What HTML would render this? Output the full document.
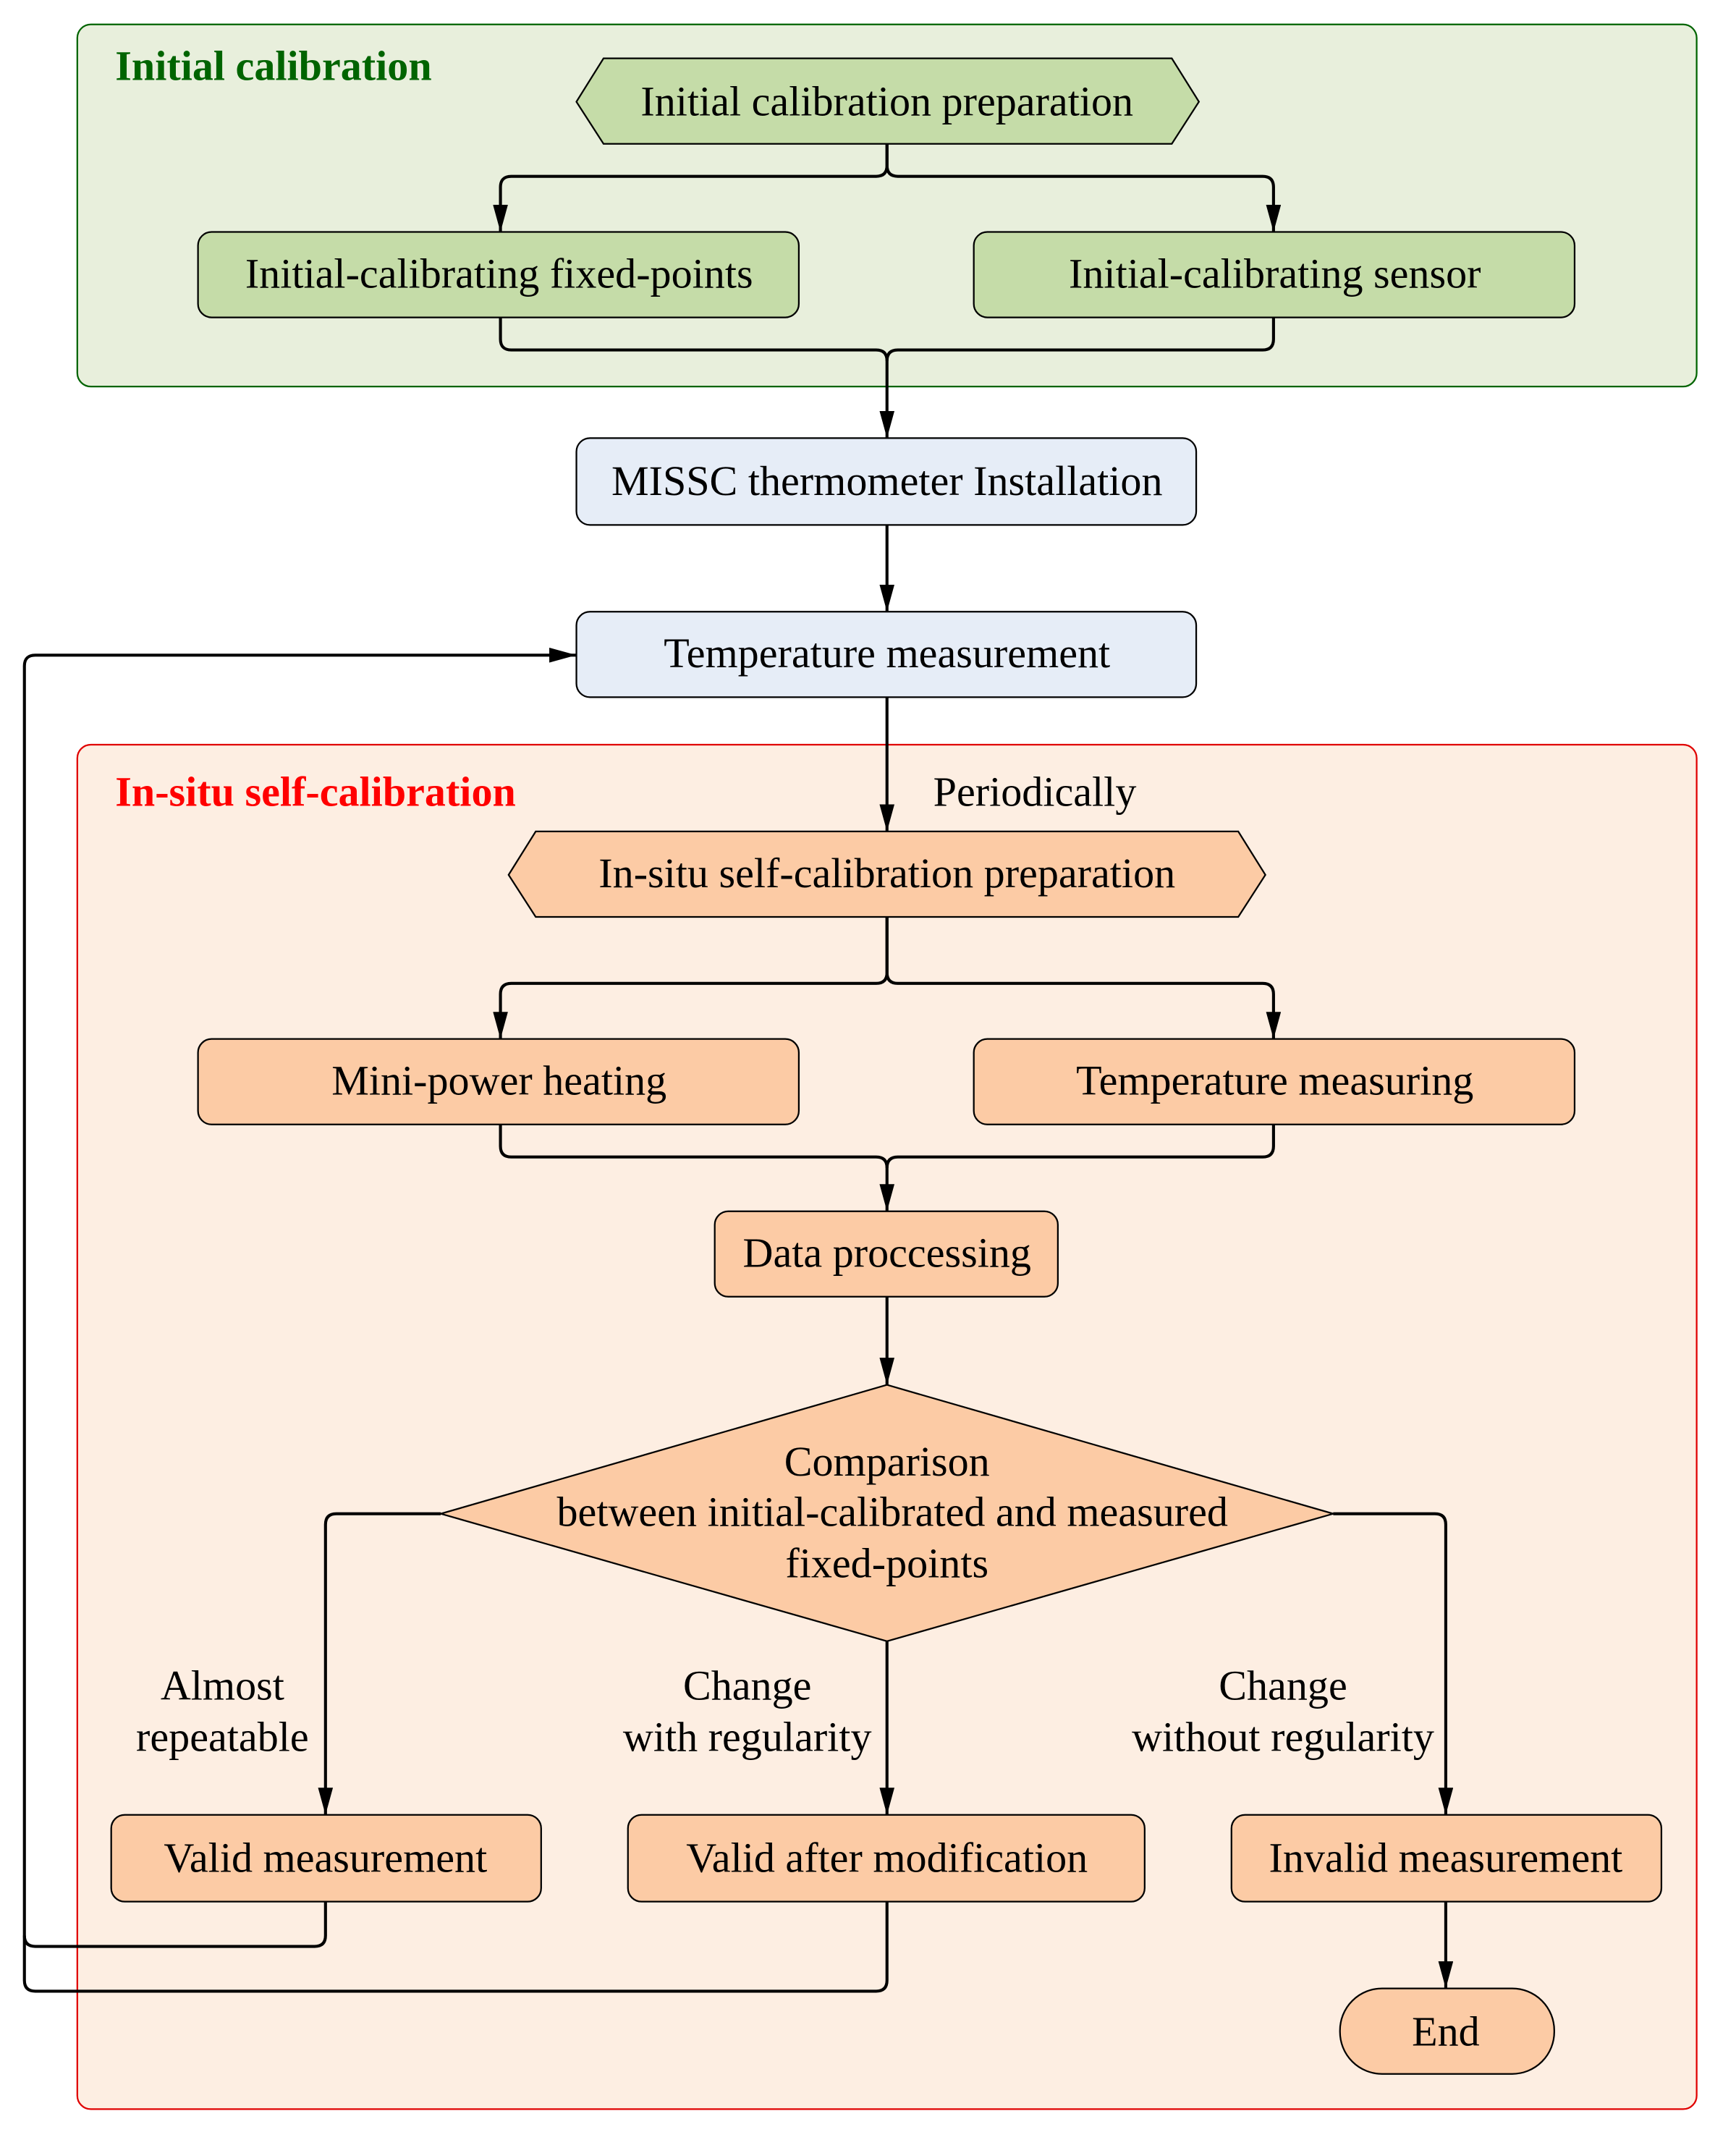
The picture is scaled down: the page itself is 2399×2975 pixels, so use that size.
<!DOCTYPE html>
<html><head><meta charset="utf-8"><style>html,body{margin:0;padding:0;background:#fff}svg{display:block}</style></head>
<body>
<svg width="2399" height="2975" viewBox="0 0 1280 1587.3" xmlns="http://www.w3.org/2000/svg" font-family="Liberation Serif, serif">
<defs>
<marker id="a" markerWidth="20" markerHeight="11" refX="20" refY="5.5" orient="auto" markerUnits="userSpaceOnUse" viewBox="0 0 20 11">
<path d="M0,0 L20,5.5 L0,11 Z" fill="#000"/></marker>
</defs>
<rect x="57" y="18" width="1194" height="267" rx="10" fill="#e8efdc" stroke="#006400" stroke-width="1.2"/>
<text x="85" y="59" font-size="31" font-weight="bold" fill="#006400">Initial calibration</text>
<rect x="57" y="549" width="1194" height="1006" rx="10" fill="#fdeee2" stroke="#e00000" stroke-width="1.2"/>
<text x="85" y="594" font-size="31" font-weight="bold" fill="#ff0000">In-situ self-calibration</text>

<g stroke="#000" stroke-width="2.2" fill="none">
<path d="M654,106 V122 Q654,130 646,130 H377 Q369,130 369,138 V171" marker-end="url(#a)"/>
<path d="M654,106 V122 Q654,130 662,130 H931 Q939,130 939,138 V171" marker-end="url(#a)"/>
<path d="M369,234 V250 Q369,258 377,258 H646 Q654,258 654,266 V323" marker-end="url(#a)"/>
<path d="M939,234 V250 Q939,258 931,258 H662 Q654,258 654,266"/>
<path d="M654,387 V451" marker-end="url(#a)"/>
<path d="M654,514 V613" marker-end="url(#a)"/>
<path d="M654,676 V717 Q654,725 646,725 H377 Q369,725 369,733 V766" marker-end="url(#a)"/>
<path d="M654,676 V717 Q654,725 662,725 H931 Q939,725 939,733 V766" marker-end="url(#a)"/>
<path d="M369,829 V845 Q369,853 377,853 H646 Q654,853 654,861 V893" marker-end="url(#a)"/>
<path d="M939,829 V845 Q939,853 931,853 H662 Q654,853 654,861"/>
<path d="M654,956 V1021" marker-end="url(#a)"/>
<path d="M325,1116 H248 Q240,1116 240,1124 V1338" marker-end="url(#a)"/>
<path d="M983,1116 H1058 Q1066,1116 1066,1124 V1338" marker-end="url(#a)"/>
<path d="M654,1210 V1338" marker-end="url(#a)"/>
<path d="M1066,1402 V1466" marker-end="url(#a)"/>
<path d="M240,1402 V1427 Q240,1435 232,1435 H26 Q18,1435 18,1427"/>
<path d="M654,1402 V1460 Q654,1468 646,1468 H26 Q18,1468 18,1460 V491 Q18,483 26,483 H425" marker-end="url(#a)"/>
</g>

<g stroke="#000" stroke-width="1.2">
<polygon points="425,75 445,43 864,43 884,75 864,106 445,106" fill="#c5dca8"/>
<rect x="146" y="171" width="443" height="63" rx="10" fill="#c5dca8"/>
<rect x="718" y="171" width="443" height="63" rx="10" fill="#c5dca8"/>
<rect x="425" y="323" width="457" height="64" rx="10" fill="#e6edf7"/>
<rect x="425" y="451" width="457" height="63" rx="10" fill="#e6edf7"/>
<polygon points="375,645 395,613 913,613 933,645 913,676 395,676" fill="#fccba5"/>
<rect x="146" y="766" width="443" height="63" rx="10" fill="#fccba5"/>
<rect x="718" y="766" width="443" height="63" rx="10" fill="#fccba5"/>
<rect x="527" y="893" width="253" height="63" rx="10" fill="#fccba5"/>
<polygon points="654,1021 983,1116 654,1210 325,1116" fill="#fccba5"/>
<rect x="82" y="1338" width="317" height="64" rx="10" fill="#fccba5"/>
<rect x="463" y="1338" width="381" height="64" rx="10" fill="#fccba5"/>
<rect x="908" y="1338" width="317" height="64" rx="10" fill="#fccba5"/>
<rect x="988" y="1466" width="158" height="63" rx="31" fill="#fccba5"/>
</g>

<g font-size="31" text-anchor="middle" fill="#000">
<text x="654" y="85">Initial calibration preparation</text>
<text x="368" y="212">Initial-calibrating fixed-points</text>
<text x="940" y="212">Initial-calibrating sensor</text>
<text x="654" y="365">MISSC thermometer Installation</text>
<text x="654" y="492">Temperature measurement</text>
<text x="763" y="594">Periodically</text>
<text x="654" y="654">In-situ self-calibration preparation</text>
<text x="368" y="807">Mini-power heating</text>
<text x="940" y="807">Temperature measuring</text>
<text x="654" y="934">Data proccessing</text>
<text x="654" y="1088">Comparison</text>
<text x="658" y="1125">between initial-calibrated and measured</text>
<text x="654" y="1163">fixed-points</text>
<text x="164" y="1253">Almost</text>
<text x="164" y="1291">repeatable</text>
<text x="551" y="1253">Change</text>
<text x="551" y="1291">with regularity</text>
<text x="946" y="1253">Change</text>
<text x="946" y="1291">without regularity</text>
<text x="240" y="1380">Valid measurement</text>
<text x="654" y="1380">Valid after modification</text>
<text x="1066" y="1380">Invalid measurement</text>
<text x="1066" y="1508">End</text>
</g>
</svg>
</body></html>
